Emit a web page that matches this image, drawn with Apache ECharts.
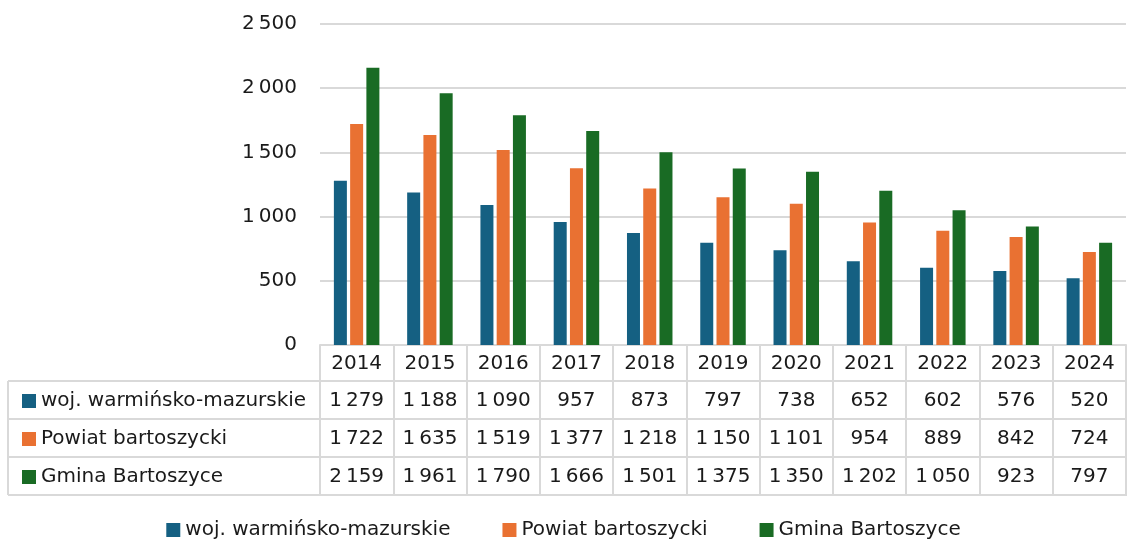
<!DOCTYPE html>
<html>
<head>
<meta charset="utf-8">
<script src="https://cdn.jsdelivr.net/npm/echarts@6/dist/echarts.min.js"></script>
<style>
  html, body { margin: 0; padding: 0; background: #fff; }
  #chart { width: 1127px; height: 541px; }
</style>
</head>
<body>
<div id="chart"></div>
<script>
  // dane z tabeli
  var years = ['2014', '2015', '2016', '2017', '2018', '2019', '2020', '2021', '2022', '2023', '2024']
  var seriesNames = ['woj. warmińsko-mazurskie', 'Powiat bartoszycki', 'Gmina Bartoszyce']
  var wojData = [1279, 1188, 1090, 957, 873, 797, 738, 652, 602, 576, 520]
  var powiatData = [1722, 1635, 1519, 1377, 1218, 1150, 1101, 954, 889, 842, 724]
  var gminaData = [2159, 1961, 1790, 1666, 1501, 1375, 1350, 1202, 1050, 923, 797]
  var yTicks = [0, 500, 1000, 1500, 2000, 2500]

  var colors = ['#156082', '#E97132', '#196B24']
  var font = 'DejaVu Sans'
  var lineColor = '#d9d9d9'
  var txt = '#1a1a1a'

  // separator tysiecy - waska spacja
  function fmt(v) {
    return String(v).replace(/\B(?=(\d{3})+(?!\d))/g, '\u2009')
  }

  var chart = echarts.init(document.getElementById('chart'))

  // linie tabeli pod osia
  var tableLines = []
  var rowsY = [381, 419, 457, 495]
  rowsY.forEach(function (y) {
    tableLines.push({
      type: 'line',
      shape: { x1: 8, y1: y, x2: 1127, y2: y },
      style: { stroke: lineColor, lineWidth: 2 }
    })
  })
  tableLines.push({
    type: 'line',
    shape: { x1: 8, y1: 381, x2: 8, y2: 495 },
    style: { stroke: lineColor, lineWidth: 2 }
  })

  var option = {
    color: colors,
    animation: false,
    textStyle: { fontFamily: font },
    grid: { left: 320, right: 1, top: 24, bottom: 196 },
    legend: [
      {
        data: seriesNames,
        top: 514,
        left: 'center',
        icon: 'rect',
        itemWidth: 14,
        itemHeight: 14,
        itemGap: 52,
        textStyle: { fontSize: 20, color: txt, fontFamily: font, lineHeight: 22 }
      },
      {
        data: seriesNames,
        orient: 'vertical',
        left: 17,
        top: 385,
        icon: 'rect',
        itemWidth: 14,
        itemHeight: 14,
        itemGap: 16,
        selectedMode: false,
        textStyle: { fontSize: 20, color: txt, fontFamily: font, lineHeight: 22 }
      }
    ],
    xAxis: {
      type: 'category',
      data: years,
      axisLine: { lineStyle: { color: lineColor, width: 2 } },
      axisTick: { show: true, interval: 0, length: 150, lineStyle: { color: lineColor, width: 2 } },
      axisLabel: {
        interval: 0,
        margin: 1,
        formatter: function (val, idx) {
          return '{y|' + val + '}\n{v|' + fmt(wojData[idx]) + '}\n{v|' + fmt(powiatData[idx]) + '}\n{v|' + fmt(gminaData[idx]) + '}'
        },
        rich: {
          y: { fontSize: 20, lineHeight: 36, color: txt, fontFamily: font },
          v: { fontSize: 20, lineHeight: 38, color: txt, fontFamily: font }
        }
      }
    },
    yAxis: {
      type: 'value',
      min: yTicks[0],
      max: yTicks[yTicks.length - 1],
      interval: 500,
      axisLine: { show: false },
      axisTick: { show: false },
      axisLabel: {
        margin: 23,
        fontSize: 20,
        color: txt,
        fontFamily: font,
        formatter: function (v) { return fmt(v) }
      },
      splitLine: { lineStyle: { color: lineColor, width: 2 } }
    },
    series: [
      { name: seriesNames[0], type: 'bar', data: wojData, barWidth: 13, barGap: '25%' },
      { name: seriesNames[1], type: 'bar', data: powiatData, barWidth: 13, barGap: '25%' },
      { name: seriesNames[2], type: 'bar', data: gminaData, barWidth: 13, barGap: '25%' }
    ],
    graphic: tableLines
  }
  chart.setOption(option)
</script>
</body>
</html>
